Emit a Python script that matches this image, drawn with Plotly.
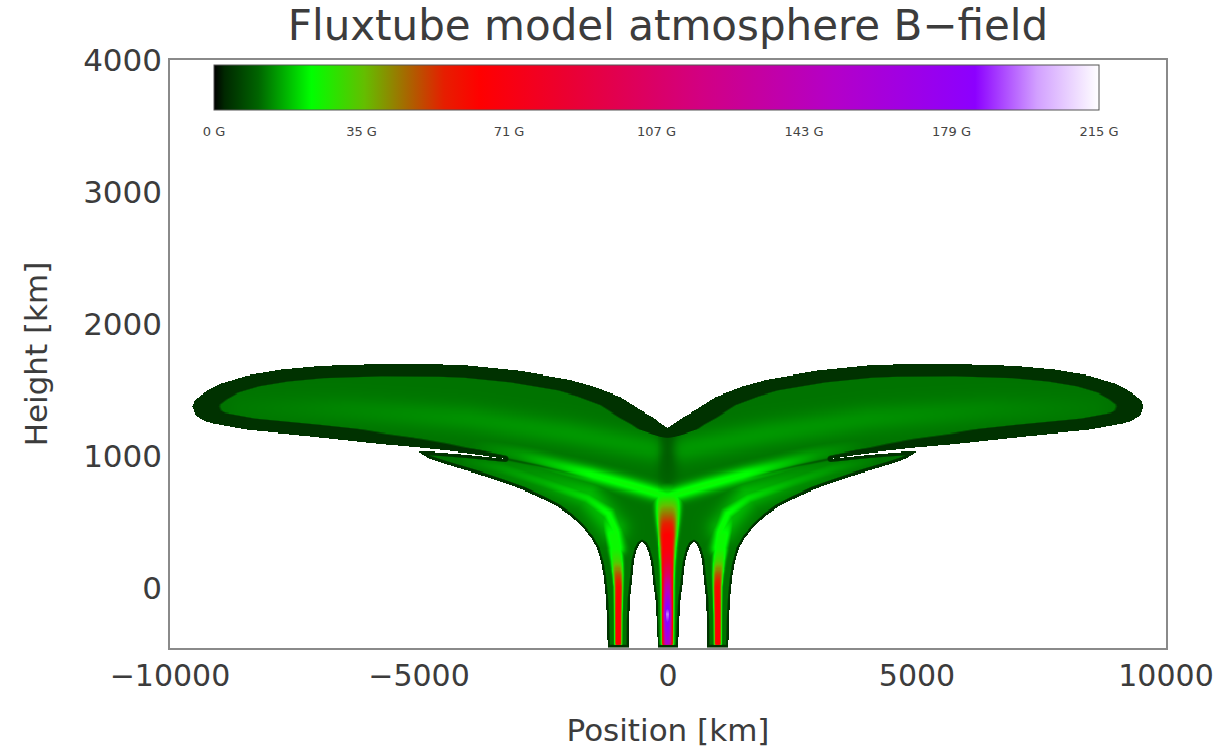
import numpy as np
import plotly.graph_objects as go

# ---------------- values ----------------
# Outline of the left half of the flux-tube structure (km): from the central
# notch, round the upper lobe, the lower lobe, down the left tube, through the
# arch between left and central tube, to the bottom centre.
outline_x = [0, -300, -553, -955, -1500, -1960, -3000, -4000, -4573, -5779,
             -6985, -7789, -8458, -9000, -9300, -9500, -9540, -9480, -9300,
             -9130, -8458, -7120, -5779, -5000, -4439, -3800, -3266, -4000,
             -4700, -4990, -4900, -4774, -4400, -4111, -3700, -3307, -2900,
             -2503, -2200, -1960, -1750, -1558, -1417, -1340, -1296, -1260,
             -1235, -1216, -794, -788, -770, -740, -710, -690, -640, -580,
             -530, -470, -410, -360, -330, -300, -262, -235, -211, 0]
outline_h = [1210, 1290, 1345, 1445, 1525, 1576, 1645, 1685, 1694, 1697,
             1682, 1652, 1608, 1545, 1480, 1420, 1373, 1310, 1265,
             1245, 1197, 1146, 1089, 1062, 1040, 1010, 978, 1008,
             1030, 1030, 1008, 978, 930, 896, 848, 797, 740,
             670, 610, 545, 470, 386, 290, 180, 85, -50,
             -200, -455, -455, -250, -80, 20, 130, 212, 285, 330,
             345, 330, 285, 212, 130, 20, -80, -250, -455, -455]

# Tubes: height samples (km), left side tube centre / half width, central tube half width
tube_h = [-455, -200, 0, 100, 200, 300, 400, 500, 600, 700, 800]
side_center_x = [-1005, -1005, -1000, -1010, -1030, -1060, -1100, -1160, -1250, -1350, -1450]
side_halfwidth = [211, 225, 260, 295, 345, 400, 460, 520, 580, 640, 700]
side_core_B = [55, 55, 50, 38, 20, 13, 13, 8, 3, 0, 0]            # G above background
center_halfwidth = [210, 212, 225, 240, 270, 310, 360, 420, 480, 540, 600]
center_core_B = [140, 185, 130, 95, 70, 56, 53, 42, 28, 13, 0]    # G above background

background_B = 12   # G, canopy interior
edge_B = 4          # G, outer sheath of the structure

# Bright ridges / dark lines (left half, km) with field excess (G)
varm_x = [0, -800, -1558, -2160, -3000, -4000]
varm_h = [690, 780, 860, 920, 1010, 1090]
varm_B = [13, 13, 12, 8, 3, 0]

sheath_x = [-1000, -1050, -1200, -1618, -2500, -3300, -4000]
sheath_h = [300, 420, 560, 680, 800, 900, 960]
sheath_B = [13, 13, 12, 9, 5, 3, 1]

lowlobe_x = [-1100, -1600, -2600, -3600]
lowlobe_h = [450, 700, 830, 930]
lowlobe_B = [6, 6, 3, 1]

canopy_x = [-300, -2000, -4000, -6500, -8500]
canopy_h = [1050, 1170, 1280, 1350, 1360]
canopy_B = [3, 3, 2.5, 1.5, 0.5]

gap_x = [-3266, -2600, -2020, -1500]
gap_h = [978, 925, 871, 820]
gap_B = [-4, -4, -3, 0]

notch_x = [0, 0, 0]
notch_h = [820, 1000, 1200]
notch_B = [-1.5, -3, -3]

cbar_vals = [0, 17.92, 35.83, 53.75, 71.67, 89.58, 107.5, 125.42, 143.33,
             161.25, 179.17, 197.08, 215]
cbar_text = ["0 G", "", "35 G", "", "71 G", "", "107 G", "", "143 G", "",
             "179 G", "", "215 G"]
B_max = 215

x_ticks = [-10000, -5000, 0, 5000, 10000]
x_ticktext = ["\u221210000", "\u22125000", "0", "5000", "10000"]
y_ticks = [0, 1000, 2000, 3000, 4000]

# ---------------- build the field on a grid ----------------
X_RANGE = [-10000, 10000]
Y_RANGE = [-455, 4000]
PX = 996.0 / (X_RANGE[1] - X_RANGE[0])   # pixels per km (x)
PY = 588.0 / (Y_RANGE[1] - Y_RANGE[0])   # pixels per km (y)

gx = np.arange(-9800, 9801, 20.0)
gh = np.arange(-451, 1750, 8.0)
X, H = np.meshgrid(gx, gh)
U, V = X * PX, H * PY

ox = np.array(outline_x, float)
oh = np.array(outline_h, float)
poly_x = np.concatenate([ox, -ox[::-1][1:-1]])
poly_h = np.concatenate([oh, oh[::-1][1:-1]])


def inside_poly(px, py):
    inside = np.zeros(X.shape, bool)
    n = len(px)
    for i in range(n):
        x1, y1 = px[i], py[i]
        x2, y2 = px[(i + 1) % n], py[(i + 1) % n]
        if y1 == y2:
            continue
        cond = (y1 > H) != (y2 > H)
        xint = x1 + (H - y1) * (x2 - x1) / (y2 - y1)
        inside ^= cond & (X < xint)
    return inside


def boundary_dist(px, py, sx):
    d = np.full(X.shape, 1e9)
    Us = U * sx
    n = len(px)
    for i in range(n):
        ax, ay = px[i] * PX * sx, py[i] * PY
        bx, by = px[(i + 1) % n] * PX * sx, py[(i + 1) % n] * PY
        vx, vy = bx - ax, by - ay
        L2 = vx * vx + vy * vy
        if L2 == 0:
            continue
        t = np.clip(((Us - ax) * vx + (V - ay) * vy) / L2, 0, 1)
        dd = (Us - ax - t * vx) ** 2 + (V - ay - t * vy) ** 2
        d = np.minimum(d, dd)
    return np.sqrt(d)


def ridge(xs, hs, amps, sigma):
    best = np.zeros(X.shape)
    for i in range(len(xs) - 1):
        ax, ay = xs[i] * PX, hs[i] * PY
        bx, by = xs[i + 1] * PX, hs[i + 1] * PY
        vx, vy = bx - ax, by - ay
        t = np.clip(((U - ax) * vx + (V - ay) * vy) / (vx * vx + vy * vy), 0, 1)
        d2 = (U - ax - t * vx) ** 2 + (V - ay - t * vy) ** 2
        a = amps[i] + t * (amps[i + 1] - amps[i])
        val = a * np.exp(-d2 / sigma ** 2)
        best = np.where(np.abs(val) > np.abs(best), val, best)
    return best


def tube(cx, hw, amp, width_lo, width_hi, p_lo, p_hi):
    c = np.interp(H, tube_h, cx)
    w = np.interp(H, tube_h, hw)
    a = np.interp(H, tube_h, amp)
    k = np.interp(H, [0, 300], [0, 1])
    width = width_lo + (width_hi - width_lo) * k
    p = p_lo + (p_hi - p_lo) * k
    u = np.abs(X - c) / w
    return a * np.exp(-(u / width) ** p)


mx = lambda arr: [-v for v in arr]

inside = inside_poly(poly_x, poly_h)

pos = np.maximum.reduce([
    tube(side_center_x, side_halfwidth, side_core_B, 0.32, 0.36, 4, 4),
    tube(mx(side_center_x), side_halfwidth, side_core_B, 0.32, 0.36, 4, 4),
    tube([0] * len(tube_h), center_halfwidth, center_core_B, 0.45, 0.50, 3, 4),
    ridge(varm_x, varm_h, varm_B, 7.5),
    ridge(mx(varm_x), varm_h, varm_B, 7.5),
    ridge(sheath_x, sheath_h, sheath_B, 6.5),
    ridge(mx(sheath_x), sheath_h, sheath_B, 6.5),
    ridge(lowlobe_x, lowlobe_h, lowlobe_B, 14),
    ridge(mx(lowlobe_x), lowlobe_h, lowlobe_B, 14),
    ridge(canopy_x, canopy_h, canopy_B, 14),
    ridge(mx(canopy_x), canopy_h, canopy_B, 14),
])
neg = np.minimum.reduce([
    ridge(gap_x, gap_h, gap_B, 1.3),
    ridge(mx(gap_x), gap_h, gap_B, 1.3),
    ridge(notch_x, notch_h, notch_B, 10),
])
z_int = np.maximum(background_B + pos + neg, 5)

d_iso = boundary_dist(poly_x, poly_h, 1.0)
d_ani = boundary_dist(poly_x, poly_h, 0.45)
s = np.interp(H, [1050, 1200], [0, 1])
d = d_iso * (1 - s) + d_ani * s
w = np.interp(H, [450, 700, 900, 1000, 1060, 1130, 1200], [2.2, 3, 3.2, 3.2, 5, 9, 12])
f = np.clip((d - w) / 1.2 + 0.5, 0, 1)
z = edge_B + (z_int - edge_B) * f
z = np.where(inside, z, np.nan).astype(np.float32)

colorscale = [
    [0.0, "rgb(0,0,0)"],
    [0.012, "rgb(0,40,0)"],
    [0.05, "rgb(0,100,0)"],
    [0.11, "rgb(0,255,0)"],
    [0.17, "rgb(100,190,0)"],
    [0.22, "rgb(170,100,0)"],
    [0.26, "rgb(230,30,0)"],
    [0.30, "rgb(255,0,0)"],
    [0.40, "rgb(235,0,50)"],
    [0.55, "rgb(210,0,130)"],
    [0.70, "rgb(180,0,200)"],
    [0.86, "rgb(140,0,255)"],
    [0.93, "rgb(210,160,255)"],
    [1.0, "rgb(255,255,255)"],
]

FONT = "DejaVu Sans ExtraLight, DejaVu Sans, sans-serif"
TXT = "#3c3c3c"

fig = go.Figure(go.Heatmap(
    x=gx, y=gh, z=z, zmin=0, zmax=B_max, colorscale=colorscale,
    hoverinfo="skip",
    colorbar=dict(
        orientation="h", x=0.4885, xanchor="center", y=0.9915, yanchor="top",
        len=0.889, lenmode="fraction", thickness=45, xpad=0, ypad=0,
        tickvals=cbar_vals, ticktext=cbar_text, ticks="outside", ticklen=10,
        tickcolor="rgba(0,0,0,0)", outlinewidth=1, outlinecolor="#555",
        tickfont=dict(family=FONT, size=13, color="#444"),
    ),
))

fig.update_layout(
    width=1226, height=756,
    margin=dict(l=170, r=60, t=60, b=108),
    paper_bgcolor="white", plot_bgcolor="white",
    font=dict(family=FONT, color=TXT),
    title=dict(text="Fluxtube model atmosphere B\u2212field", x=0.5, xref="paper",
               xanchor="center", y=0.967, yanchor="middle",
               font=dict(size=42, color=TXT, family=FONT)),
    xaxis=dict(range=X_RANGE, tickvals=x_ticks, ticktext=x_ticktext,
               showgrid=False, zeroline=False, showline=True, mirror=True,
               linecolor="#8a8a8a", linewidth=1.5, ticks="",
               tickfont=dict(size=30, color=TXT),
               title=dict(text="Position [km]", font=dict(size=31, color=TXT), standoff=28)),
    yaxis=dict(range=Y_RANGE, tickvals=y_ticks,
               showgrid=False, zeroline=False, showline=True, mirror=True,
               linecolor="#8a8a8a", linewidth=1.5, ticks="",
               tickfont=dict(size=31, color=TXT),
               title=dict(text="Height [km]", font=dict(size=31, color=TXT), standoff=26)),
)

fig.write_html("out.html")
